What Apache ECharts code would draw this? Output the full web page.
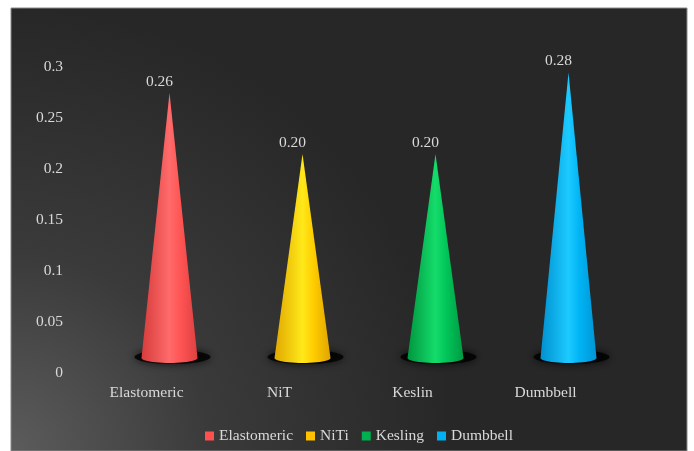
<!DOCTYPE html>
<html>
<head>
<meta charset="utf-8">
<script src="https://cdn.jsdelivr.net/npm/echarts@6/dist/echarts.min.js"></script>
<style>html,body{margin:0;padding:0;background:#fff;}#c{width:694px;height:451px;}</style>
</head>
<body>
<div id="c"></div>
<script>
const categories = ['Elastomeric', 'NiT', 'Keslin', 'Dumbbell'];
const legendNames = ['Elastomeric', 'NiTi', 'Kesling', 'Dumbbell'];
const values = [0.26, 0.20, 0.20, 0.28];
const colors = ['#ff5050', '#ffc000', '#00b050', '#00b0f0'];
const shades = [
  ['#d63c3c', '#ff6a6a', '#ff5454', '#dc4040'],
  ['#e0a800', '#ffe81a', '#ffcc00', '#e0a400'],
  ['#00963f', '#14dc6a', '#00c458', '#009a42'],
  ['#0090d0', '#1ccaff', '#00b4f4', '#0094d4']
];
const FONT = '"Liberation Serif", "Times New Roman", serif';
const TXT = '#d9d9d9';
const FS = 15.5;

const chart = echarts.init(document.getElementById('c'), null, {renderer: 'canvas'});

function makeRender(idx) {
  return function (params, api) {
    const cat = api.value(0), v = api.value(1);
    const tip = api.coord([cat, v]);
    const base = api.coord([cat, 0]);
    const dx = 23, dy = -15;
    const cx = base[0] + dx, by = base[1] + dy, ty = tip[1] + dy;
    const rx = 28, ry = 5;
    const pts = [[cx - rx, by], [cx, ty], [cx + rx, by]];
    for (let k = 1; k < 24; k++) {
      const t = Math.PI * k / 24;
      pts.push([cx + rx * Math.cos(t), by + ry * Math.sin(t)]);
    }
    const s = shades[idx];
    return {
      type: 'group',
      children: [
        {
          type: 'ellipse',
          shape: {cx: cx + 3, cy: by - 1, rx: 38, ry: 7},
          style: {fill: 'rgba(0,0,0,0.8)', shadowBlur: 9, shadowColor: 'rgba(0,0,0,0.9)'}
        },
        {
          type: 'polygon',
          shape: {points: pts},
          style: {
            fill: new echarts.graphic.LinearGradient(0, 0, 1, 0, [
              {offset: 0, color: s[0]},
              {offset: 0.5, color: s[1]},
              {offset: 0.7, color: s[2]},
              {offset: 1, color: s[3]}
            ])
          }
        },
        {
          type: 'text',
          style: {
            text: v.toFixed(2),
            x: cx - 10, y: ty - 3,
            align: 'center', verticalAlign: 'bottom',
            fill: TXT, font: FS + 'px ' + FONT
          }
        }
      ]
    };
  };
}

const series = legendNames.map((name, i) => ({
  name: name,
  type: 'custom',
  itemStyle: {color: colors[i]},
  renderItem: makeRender(i),
  encode: {x: 0, y: 1},
  data: [[i, values[i]]],
  z: 3
}));

chart.setOption({
  backgroundColor: '#ffffff',
  animation: false,
  graphic: [{
    type: 'rect',
    z: -10,
    shape: {x: 11, y: 8, width: 676, height: 443},
    style: {
      fill: new echarts.graphic.RadialGradient(0, 1, 1.0, [
        {offset: 0, color: '#5c5c5c'},
        {offset: 0.45, color: '#3a3a3a'},
        {offset: 1, color: '#272727'}
      ]),
      stroke: '#8a8a8a', lineWidth: 1
    }
  }],
  grid: {left: 80, right: 82, top: 67, bottom: 78},
  legend: {
    left: 200, top: 423,
    icon: 'rect', itemWidth: 9, itemHeight: 9, itemGap: 13,
    textStyle: {color: TXT, fontSize: FS, fontFamily: FONT},
    data: legendNames
  },
  xAxis: {
    type: 'category',
    data: categories,
    axisLine: {show: false}, axisTick: {show: false},
    axisLabel: {color: TXT, fontSize: FS, fontFamily: FONT, margin: 12}
  },
  yAxis: {
    type: 'value', min: 0, max: 0.3, interval: 0.05,
    axisLine: {show: false}, axisTick: {show: false},
    splitLine: {show: false},
    axisLabel: {color: TXT, fontSize: FS, fontFamily: FONT, margin: 17}
  },
  series: series
});
</script>
</body>
</html>
